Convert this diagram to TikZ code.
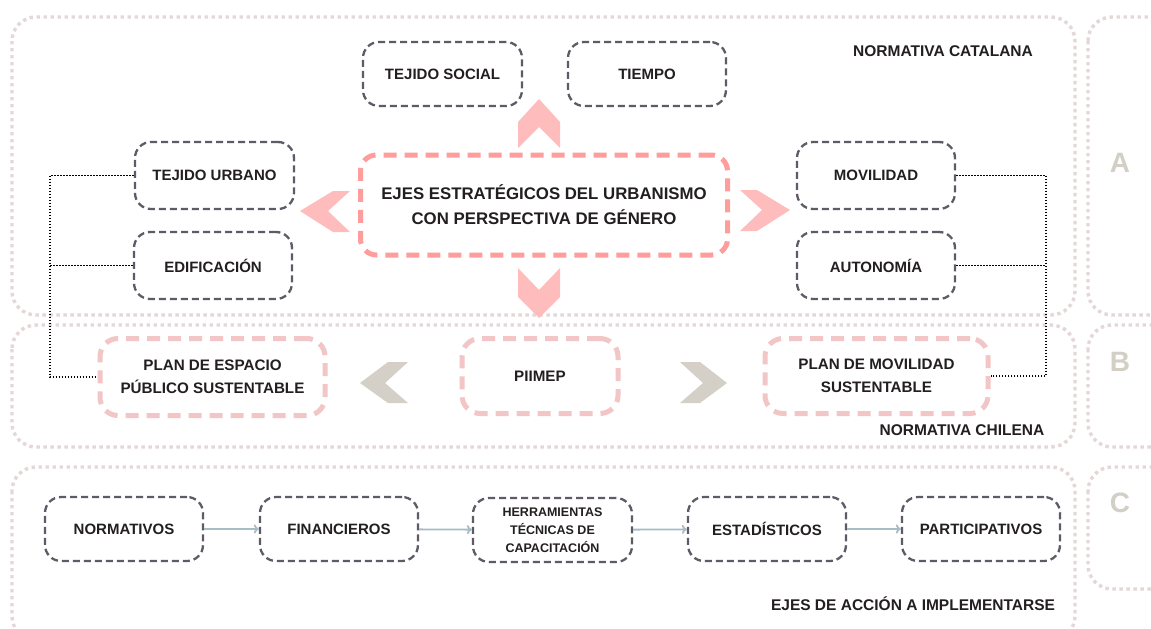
\documentclass[tikz,border=0pt]{standalone}
\usepackage{fontspec}
\setmainfont{Liberation Sans}
\definecolor{panel}{HTML}{E4D7D7}
\definecolor{boxd}{HTML}{5F5A66}
\definecolor{cpink}{HTML}{FF9C9C}
\definecolor{lpink}{HTML}{F2C6C6}
\definecolor{chev}{HTML}{FFBCBC}
\definecolor{gchev}{HTML}{D4CFC7}
\definecolor{lett}{HTML}{D3CFC7}
\definecolor{ink}{HTML}{231F20}
\definecolor{arr}{HTML}{A8BCC4}
\tikzset{
  panelbox/.style={draw=panel, line width=3.4pt, dash pattern=on 3.4pt off 3.6pt, rounded corners=24pt},
  darkbox/.style={draw=boxd, line width=2.3pt, dash pattern=on 7pt off 4pt, rounded corners=16pt, align=center, text=ink, font=\bfseries\fontsize{15}{18}\selectfont, inner sep=2pt},
  centbox/.style={draw=cpink, line width=5pt, dash pattern=on 13pt off 8pt, rounded corners=16pt, align=center, text=ink, font=\bfseries\fontsize{16.8}{25}\selectfont},
  pinkbox/.style={draw=lpink, line width=5pt, dash pattern=on 13pt off 8pt, rounded corners=18pt, align=center, text=ink, font=\bfseries\fontsize{15.2}{23}\selectfont},
  conn/.style={draw=black, line width=1.5pt, dash pattern=on 1.5pt off 1.5pt},
  flow/.style={draw=arr, line width=1.8pt, -{To[length=5pt,width=9pt]}},
  seclabel/.style={text=ink, font=\bfseries\fontsize{15.5}{18}\selectfont},
  letter/.style={text=lett, font=\bfseries\fontsize{28}{30}\selectfont},
}
\usetikzlibrary{arrows.meta}
\begin{document}
\begin{tikzpicture}[x=1pt,y=-1pt]
\useasboundingbox (0,0) rectangle (1151,629);
\clip (0,0) rectangle (1151,629);
\fill[white] (0,0) rectangle (1151,629);
% panels
\draw[panelbox] (12,17) rectangle (1075,315);
\draw[panelbox] (1088,17) rectangle (1180,315);
\draw[panelbox] (12,325) rectangle (1075,447);
\draw[panelbox] (1088,325) rectangle (1180,447);
\draw[panelbox] (12,467) rectangle (1075,640);
\draw[panelbox] (1088,467) rectangle (1180,589);
\node[letter] (la) at (1120,163) {A};
\node[letter] (lb) at (1120,362) {B};
\node[letter] (lc) at (1120,503) {C};
% section labels
\node[seclabel] (ncat) at (943,51) {NORMATIVA CATALANA};
\node[seclabel] (nchi) at (962,430) {NORMATIVA CHILENA};
\node[seclabel] (ejac) at (913,604) {EJES DE ACCIÓN A IMPLEMENTARSE};
% top section nodes
\node[darkbox, minimum width=159pt, minimum height=64pt] (tsoc) at (442.5,74) {TEJIDO SOCIAL};
\node[darkbox, minimum width=158pt, minimum height=64pt] (tiem) at (647,74) {TIEMPO};
\node[darkbox, minimum width=159pt, minimum height=67pt] (turb) at (214.5,175.5) {TEJIDO URBANO};
\node[darkbox, minimum width=158pt, minimum height=67pt] (edif) at (213,265.5) {EDIFICACIÓN};
\node[darkbox, minimum width=158pt, minimum height=67pt] (movi) at (876,175.5) {MOVILIDAD};
\node[darkbox, minimum width=158pt, minimum height=67pt] (auto) at (876,265.5) {AUTONOMÍA};
\node[centbox, minimum width=367pt, minimum height=100pt] (cent) at (544,205) {EJES ESTRATÉGICOS DEL URBANISMO\\CON PERSPECTIVA DE GÉNERO};
% chevrons
\fill[chev] (518,148) -- (518,122) -- (539,99) -- (560,122) -- (560,148) -- (539,127) -- cycle;
\fill[chev] (518,268) -- (539,290) -- (560,268) -- (560,297) -- (539,318) -- (518,297) -- cycle;
\fill[chev] (350,191) -- (333,191) -- (300,211) -- (333,232) -- (350,232) -- (328,211) -- cycle;
\fill[chev] (740,190) -- (757,190) -- (790,210) -- (757,231) -- (740,231) -- (762,210) -- cycle;
% B row
\node[pinkbox, minimum width=225pt, minimum height=77pt] (pesp) at (212.5,377) {PLAN DE ESPACIO\\PÚBLICO SUSTENTABLE};
\node[pinkbox, minimum width=156pt, minimum height=75pt] (piim) at (540,376) {PIIMEP};
\node[pinkbox, minimum width=223pt, minimum height=75pt] (pmov) at (876.5,376) {PLAN DE MOVILIDAD\\SUSTENTABLE};
\fill[gchev] (408,362) -- (388,362) -- (360,383) -- (388,403) -- (408,403) -- (385,383) -- cycle;
\fill[gchev] (680,362) -- (700,362) -- (727,383) -- (700,403) -- (680,403) -- (703,383) -- cycle;
% dotted connectors
\coordinate (lx) at (50,0);
\coordinate (rx) at (1046,0);
\draw[conn] (turb.west) -- (turb.west -| lx) -- (pesp.west -| lx) -- (pesp.west);
\draw[conn] (edif.west) -- (edif.west -| lx);
\draw[conn] (movi.east) -- (movi.east -| rx) -- (pmov.east -| rx) -- (pmov.east);
\draw[conn] (auto.east) -- (auto.east -| rx);
% C row
\node[darkbox, minimum width=158pt, minimum height=64pt] (norm) at (124,529) {NORMATIVOS};
\node[darkbox, minimum width=158pt, minimum height=64pt] (fina) at (339,529) {FINANCIEROS};
\node[darkbox, minimum width=159pt, minimum height=64pt, font=\bfseries\fontsize{12.5}{18}\selectfont] (herr) at (552.5,530) {HERRAMIENTAS\\TÉCNICAS DE\\CAPACITACIÓN};
\node[darkbox, minimum width=158pt, minimum height=64pt] (esta) at (767,529) {ESTADÍSTICOS};
\node[darkbox, minimum width=158pt, minimum height=64pt] (part) at (981,529) {PARTICIPATIVOS};
\draw[flow] (norm) -- (fina);
\draw[flow] (fina) -- (herr);
\draw[flow] (herr) -- (esta);
\draw[flow] (esta) -- (part);
\end{tikzpicture}
\end{document}
